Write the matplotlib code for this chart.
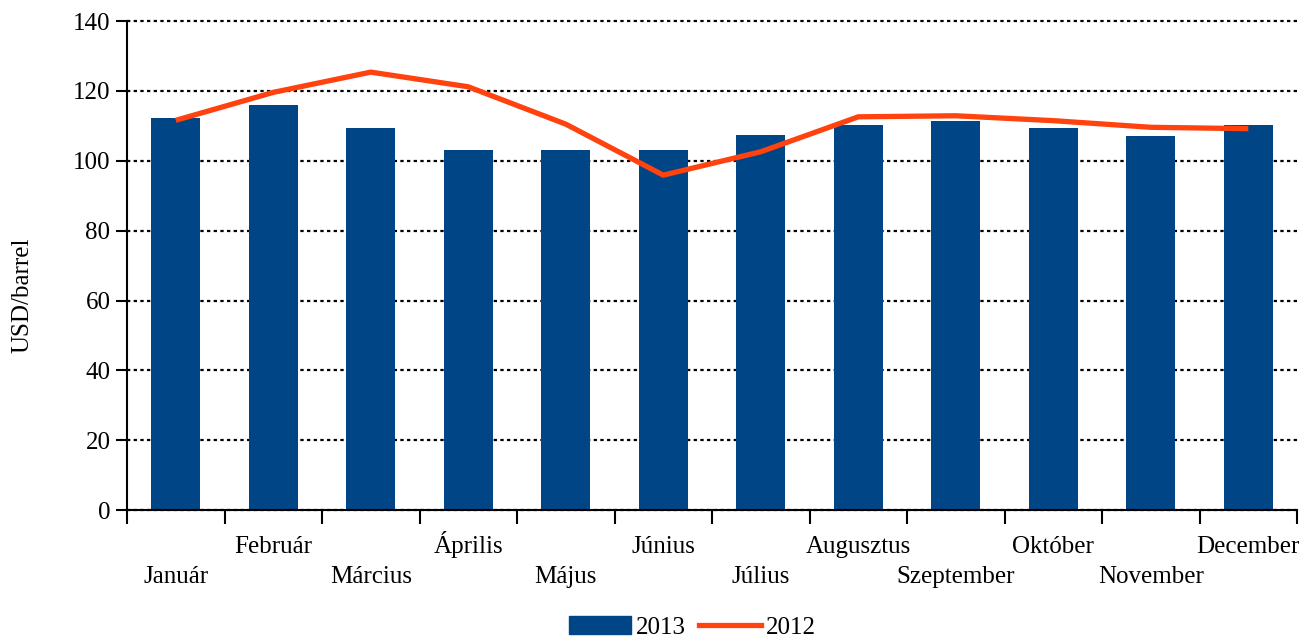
import matplotlib.pyplot as plt
import matplotlib.transforms as mtransforms
from matplotlib.patches import Patch
from matplotlib.lines import Line2D
import numpy as np

plt.rcParams['font.family'] = ['Liberation Serif', 'DejaVu Serif']

months = ["Január", "Február", "Március", "Április", "Május", "Június",
          "Július", "Augusztus", "Szeptember", "Október", "November", "December"]
brent_2013 = [112.2, 115.9, 109.4, 103.1, 103.1, 103.1, 107.4, 110.2, 111.4, 109.4, 107.1, 110.2]
brent_2012 = [111.6, 119.6, 125.4, 121.2, 110.5, 95.9, 102.6, 112.6, 112.9, 111.5, 109.6, 109.2]

bar_color = "#004586"
line_color = "#ff420e"
fs = 18

fig = plt.figure(figsize=(12.99, 6.4), dpi=100)
ax = fig.add_axes([0.0978, 0.203, 0.9007, 0.764])

x = np.arange(len(months))
ax.bar(x, brent_2013, width=0.5, color=bar_color, zorder=2)
ax.plot(x, brent_2012, color=line_color, lw=3.8, solid_capstyle="butt",
        solid_joinstyle="miter", zorder=3)

ax.set_ylim(0, 140)
ax.set_xlim(-0.5, len(months) - 0.5)
ax.set_yticks(np.arange(0, 141, 20))
ax.yaxis.grid(True, color="black", linestyle=(0, (1.5, 1.5)), linewidth=1.6, zorder=0)
for gl in ax.get_ygridlines():
    gl.set_clip_on(False)
ax.set_axisbelow(True)

# ticks on category boundaries, names written in two rows below
ax.set_xticks(np.arange(-0.5, len(months), 1.0))
ax.set_xticklabels([])
ax.tick_params(axis="x", direction="out", length=10, width=1.5)
ax.tick_params(axis="y", direction="out", length=8, width=1.5, labelsize=fs, pad=4)

trans = mtransforms.blended_transform_factory(ax.transData, ax.transAxes)
for i, m in enumerate(months):
    y = -0.149 if i % 2 == 0 else -0.088
    ax.text(x[i], y, m, transform=trans, ha="center", va="baseline", fontsize=fs)

for s in ["top", "right"]:
    ax.spines[s].set_visible(False)
for s in ["left", "bottom"]:
    ax.spines[s].set_linewidth(1.5)

ax.set_ylabel("USD/barrel", fontsize=fs)
ax.yaxis.set_label_coords(-0.08, 0.44)

handles = [Patch(color=bar_color), Line2D([], [], color=line_color, lw=3.8)]
fig.legend(handles, ["2013", "2012"], loc="lower center", bbox_to_anchor=(0.533, -0.033),
           ncol=2, frameon=False, fontsize=fs, handlelength=2.5, handleheight=0.7,
           handletextpad=0.2, columnspacing=0.5)

fig.savefig("out.png", dpi=100)
